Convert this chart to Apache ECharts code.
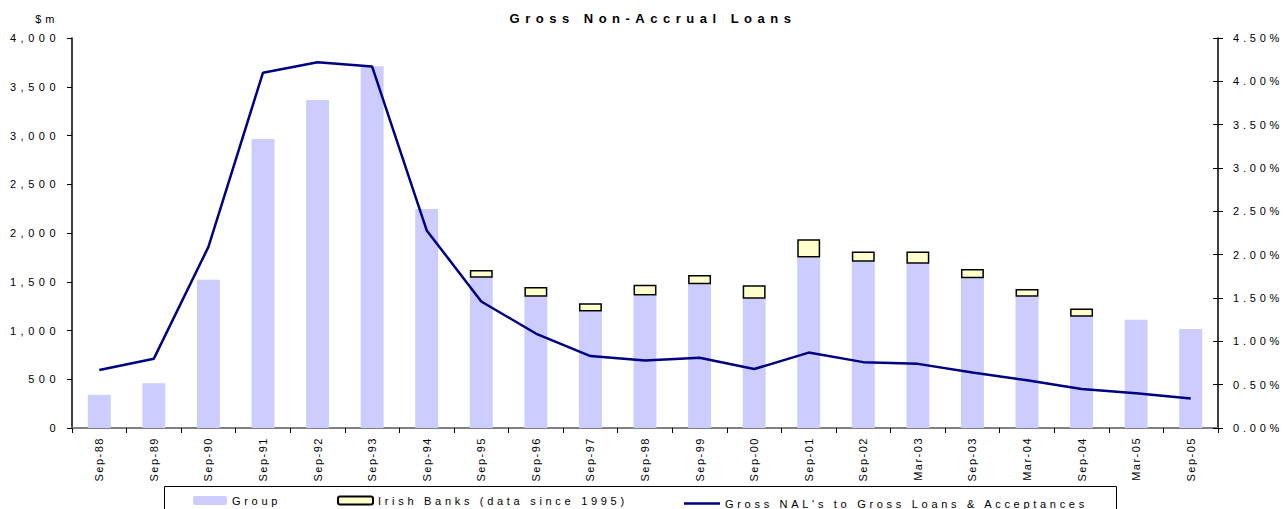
<!DOCTYPE html>
<html>
<head>
<meta charset="utf-8">
<title>Gross Non-Accrual Loans</title>
<script src="https://cdn.jsdelivr.net/npm/echarts@6/dist/echarts.min.js"></script>
<style>
html, body { margin: 0; padding: 0; background: #fff; }
#main { width: 1285px; height: 509px; }
</style>
</head>
<body>
<div id="main"></div>
<script>
// periods on the x axis
var categories = ['Sep-88', 'Sep-89', 'Sep-90', 'Sep-91', 'Sep-92', 'Sep-93', 'Sep-94', 'Sep-95', 'Sep-96', 'Sep-97',
  'Sep-98', 'Sep-99', 'Sep-00', 'Sep-01', 'Sep-02', 'Mar-03', 'Sep-03', 'Mar-04', 'Sep-04', 'Mar-05', 'Sep-05']
// $m
var groupVals = [340, 460, 1520, 2965, 3365, 3710, 2245, 1540, 1345, 1195, 1360, 1475, 1325, 1750, 1705, 1685, 1535, 1345, 1140, 1110, 1015]
// $m, stacked on top of group (data since 1995)
var irishVals = [null, null, null, null, null, null, null, 80, 100, 85, 110, 95, 140, 185, 105, 125, 95, 80, 85, null, null]
// % of gross loans & acceptances
var ratioVals = [0.67, 0.80, 2.09, 4.10, 4.22, 4.17, 2.28, 1.46, 1.09, 0.83, 0.78, 0.81, 0.68, 0.87, 0.76, 0.74, 0.64, 0.55, 0.45, 0.40, 0.34]

var leftTicks = [0, 4000, 500]   // min, max, interval
var rightTicks = [0, 4.5, 0.5]

var FONT = 'Liberation Sans, Arial, sans-serif'

var chart = echarts.init(document.getElementById('main'), null, { renderer: 'svg' })

var legendText = { fontFamily: FONT, fontSize: 11, color: '#000' }

var option = {
  animation: false,
  title: {
    text: 'Gross Non-Accrual Loans',
    left: 653,
    top: 12,
    padding: 0,
    textAlign: 'center',
    textStyle: { fontFamily: FONT, fontSize: 13, fontWeight: 'bold', color: '#000' }
  },
  grid: { left: 72, right: 67, top: 38, bottom: 81 },
  legend: [
    {
      data: ['Group'], left: 193, top: 495, padding: 0, itemWidth: 34, itemHeight: 9, itemGap: 0,
      textStyle: legendText
    },
    {
      data: ['Irish Banks (data since 1995)'], left: 337, top: 495, padding: 0, itemWidth: 35, itemHeight: 8, itemGap: 0,
      textStyle: legendText
    },
    {
      data: [{ name: "Gross NAL's to Gross Loans & Acceptances", icon: 'rect' }],
      left: 684, top: 498, padding: 0, itemWidth: 36, itemHeight: 2.5, itemGap: 0,
      textStyle: legendText
    }
  ],
  graphic: [
    {
      type: 'rect',
      shape: { x: 164.5, y: 486.5, width: 952, height: 40 },
      style: { fill: 'none', stroke: '#000', lineWidth: 1 }
    },
    {
      type: 'text',
      x: 58, y: 19,
      style: { text: '$m', fontFamily: FONT, fontSize: 11, fill: '#000', textAlign: 'right', textVerticalAlign: 'middle' }
    }
  ],
  xAxis: [
    {
      type: 'category',
      data: categories,
      boundaryGap: true,
      axisLine: { lineStyle: { color: '#000', width: 1.5 } },
      axisTick: { show: true, length: 5, lineStyle: { color: '#000' } },
      axisLabel: { interval: 0, rotate: 90, margin: 9, fontFamily: FONT, fontSize: 11, color: '#000' },
      splitLine: { show: false }
    },
    {
      type: 'category',
      data: categories,
      position: 'top',
      axisLine: { lineStyle: { color: '#808080', width: 2 } },
      axisTick: { show: false },
      axisLabel: { show: false }
    }
  ],
  yAxis: [
    {
      type: 'value',
      min: leftTicks[0], max: leftTicks[1], interval: leftTicks[2],
      position: 'left',
      axisLine: { show: true, lineStyle: { color: '#000', width: 1.5 } },
      axisTick: { show: true, length: 5, lineStyle: { color: '#000' } },
      splitLine: { show: false },
      axisLabel: {
        margin: 12, fontFamily: FONT, fontSize: 11, color: '#000',
        formatter: function (v) { return v.toLocaleString('en-US') }
      }
    },
    {
      type: 'value',
      min: rightTicks[0], max: rightTicks[1], interval: rightTicks[2],
      position: 'right',
      axisLine: { show: true, lineStyle: { color: '#000', width: 1.5 } },
      axisTick: { show: true, length: 5, lineStyle: { color: '#000' } },
      splitLine: { show: false },
      axisLabel: {
        margin: 15, fontFamily: FONT, fontSize: 11, color: '#000',
        formatter: function (v) { return v.toFixed(2) + '%' }
      }
    },
    {
      // inner half of the crossing ticks on the right axis
      type: 'value',
      min: rightTicks[0], max: rightTicks[1], interval: rightTicks[2],
      position: 'right',
      axisLine: { show: false },
      axisTick: { show: true, inside: true, length: 5, lineStyle: { color: '#000' } },
      splitLine: { show: false },
      axisLabel: { show: false }
    }
  ],
  series: [
    {
      name: 'Group',
      type: 'bar',
      stack: 'nal',
      barWidth: '42%',
      data: groupVals,
      itemStyle: { color: '#CCCCFF' }
    },
    {
      name: 'Irish Banks (data since 1995)',
      type: 'bar',
      stack: 'nal',
      barWidth: '42%',
      data: irishVals,
      itemStyle: { color: '#FFFFCC', borderColor: '#000', borderWidth: 1.5 }
    },
    {
      name: "Gross NAL's to Gross Loans & Acceptances",
      type: 'line',
      yAxisIndex: 1,
      data: ratioVals,
      symbol: 'none',
      lineStyle: { color: '#000080', width: 2.5 },
      itemStyle: { color: '#000080' }
    }
  ]
}

chart.setOption(option)

// the original chart uses widely spaced lettering
function spaceText() {
  var texts = document.querySelectorAll('#main svg text')
  texts.forEach(function (t) {
    var s = t.textContent
    var sp = '3.7px'
    if (s === 'Gross Non-Accrual Loans') sp = '5.5px'
    else if (/^(Sep|Mar)-/.test(s)) sp = '1.5px'
    else if (/%$/.test(s)) sp = '3.8px'
    else if (/^[0-9,]+$/.test(s)) sp = '4.5px'
    t.setAttribute('letter-spacing', sp)
  })
}
chart.on('finished', spaceText)
spaceText()
</script>
</body>
</html>
